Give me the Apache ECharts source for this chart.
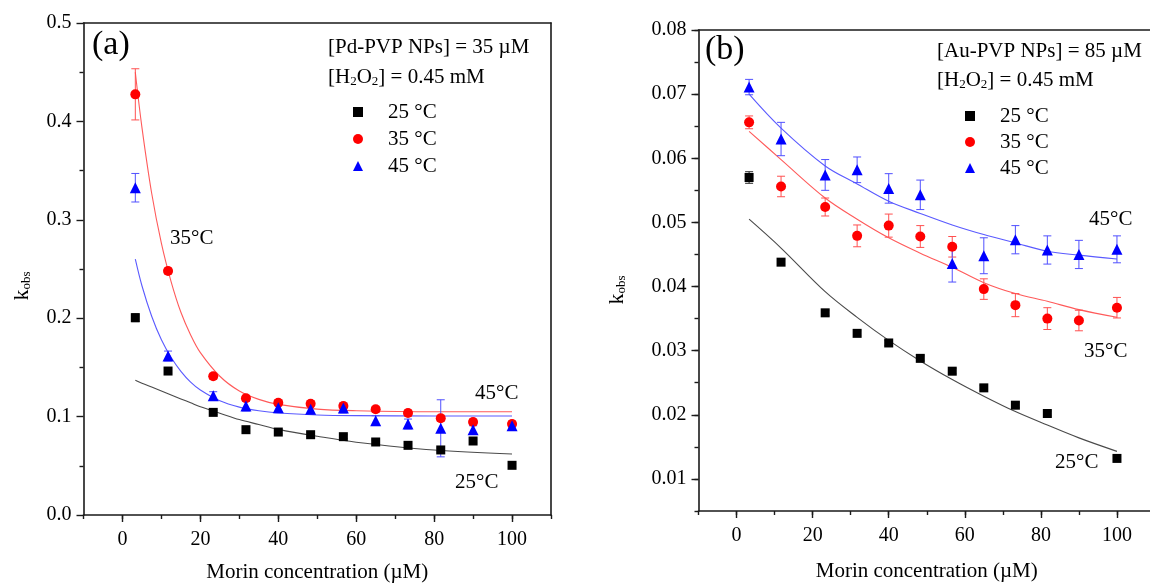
<!DOCTYPE html>
<html>
<head>
<meta charset="utf-8">
<title>Morin kinetics</title>
<script src="https://cdn.jsdelivr.net/npm/echarts@6/dist/echarts.min.js"></script>
<style>
  html, body { margin: 0; padding: 0; background: #fff; }
  #chart { width: 1150px; height: 583px; }
</style>
</head>
<body>
<div id="chart"></div>
<script>
// Morin concentrations (µM) used in both experiments
const morin = [3.3, 11.7, 23.3, 31.7, 40, 48.3, 56.7, 65, 73.3, 81.7, 90, 100];
const seriesNames = ['25 °C', '35 °C', '45 °C'];

// (a) Pd-PVP NPs: observed rate constants and error bars
const pdK25 = [0.2005, 0.1463, 0.1043, 0.0867, 0.0843, 0.0816, 0.0796, 0.0742, 0.0708, 0.0661, 0.0752, 0.0505];
const pdErr25 = [0.004, 0.002, 0.002, 0.002, 0.002, 0.002, 0.002, 0.002, 0.002, 0.002, 0.002, 0.002];
const pdK35 = [0.4275, 0.248, 0.141, 0.1186, 0.1141, 0.1131, 0.1108, 0.1074, 0.1037, 0.0983, 0.0945, 0.0925];
const pdErr35 = [0.026, 0.003, 0.003, 0.003, 0.003, 0.003, 0.003, 0.003, 0.003, 0.003, 0.003, 0.003];
const pdK45 = [0.3326, 0.1616, 0.1213, 0.1108, 0.109, 0.1074, 0.1087, 0.0959, 0.0925, 0.0881, 0.0867, 0.0908];
const pdErr45 = [0.0145, 0.005, 0.004, 0.005, 0.005, 0.005, 0.005, 0.005, 0.005, 0.029, 0.004, 0.004];

// (a) fitted curves
const pdFitX = [3.3, 5, 7.5, 10, 12.5, 15, 17.5, 20, 25, 30, 35, 40, 50, 60, 80, 100];
const pdFit25 = [0.137, 0.134, 0.130, 0.126, 0.122, 0.118, 0.114, 0.110, 0.1035, 0.097, 0.092, 0.087, 0.080, 0.074, 0.066, 0.062];
const pdFit35 = [0.450, 0.394, 0.327, 0.276, 0.237, 0.206, 0.183, 0.165, 0.141, 0.126, 0.1175, 0.1124, 0.1076, 0.106, 0.105, 0.105];
const pdFit45 = [0.260, 0.233, 0.202, 0.178, 0.160, 0.146, 0.135, 0.127, 0.116, 0.1096, 0.1059, 0.1037, 0.1017, 0.1010, 0.1006, 0.1006];

// (b) Au-PVP NPs: observed rate constants and error bars (no 25 °C point at 90 µM)
const auK25 = [0.0570, 0.0438, 0.0359, 0.0327, 0.0312, 0.0288, 0.0268, 0.0242, 0.0215, 0.0202, null, 0.0132];
const auErr25 = [0.0009, 0.0004, 0.0004, 0.0004, 0.0004, 0.0004, 0.0004, 0.0004, 0.0004, 0.0004, null, 0.0004];
const auK35 = [0.0656, 0.0556, 0.0524, 0.0479, 0.0495, 0.0478, 0.0462, 0.0396, 0.0371, 0.0350, 0.0347, 0.0367];
const auErr35 = [0.0010, 0.0016, 0.0014, 0.0017, 0.0018, 0.0017, 0.0016, 0.0016, 0.0018, 0.0017, 0.0016, 0.0016];
const auK45 = [0.0711, 0.0630, 0.0574, 0.0582, 0.0553, 0.0543, 0.0436, 0.0448, 0.0473, 0.0457, 0.0450, 0.0458];
const auErr45 = [0.0012, 0.0026, 0.0024, 0.0020, 0.0023, 0.0023, 0.0029, 0.0028, 0.0022, 0.0022, 0.0022, 0.0021];

// (b) fitted curves
const auFit25 = [0.0505, 0.0460, 0.0392, 0.0352, 0.0316, 0.0284, 0.0255, 0.0229, 0.0205, 0.0184, 0.0164, 0.0143];
const auFit35 = [0.0642, 0.0598, 0.0538, 0.0505, 0.0476, 0.0452, 0.0430, 0.0406, 0.0389, 0.0377, 0.0364, 0.0352];
const auFit45 = [0.0700, 0.0647, 0.0588, 0.0560, 0.0533, 0.0514, 0.0496, 0.0481, 0.0468, 0.0455, 0.0449, 0.0443];

// axis ticks
const xMajorTicks = [0, 20, 40, 60, 80, 100];
const auYMajorTicks = [0.01, 0.02, 0.03, 0.04, 0.05, 0.06, 0.07, 0.08];

const FONT = 'Liberation Serif';
const AXIS_COLOR = '#1a1a1a';
const colors = ['#000000', '#ff0000', '#0000ff'];
const errColors = ['#222222', '#ff5050', '#5050ff'];
const fitColors = ['#4a4a4a', '#ff5a5a', '#5a5aff'];
const symbols = ['rect', 'circle', 'triangle'];
const symbolSizes = [9, 10, 11];

function pairs(xs, ys) {
  const out = [];
  xs.forEach((x, i) => { if (ys[i] != null) out.push([x, ys[i]]); });
  return out;
}
function triples(xs, ys, es) {
  const out = [];
  xs.forEach((x, i) => { if (ys[i] != null) out.push([x, ys[i], es[i]]); });
  return out;
}

function scatter(k, xi, yi, data) {
  return {
    name: seriesNames[k], type: 'scatter', xAxisIndex: xi, yAxisIndex: yi,
    data, symbol: symbols[k], symbolSize: symbolSizes[k],
    itemStyle: { color: colors[k], opacity: 1 }, z: 5, silent: true
  };
}
function fit(k, xi, yi, data) {
  return {
    name: 'fit ' + seriesNames[k], type: 'line', xAxisIndex: xi, yAxisIndex: yi,
    data, smooth: 0.35, showSymbol: false, symbol: 'none',
    lineStyle: { color: fitColors[k], width: 1.1 }, z: 3, silent: true
  };
}
function errorBars(k, xi, yi, data) {
  return {
    name: 'err ' + seriesNames[k], type: 'custom', xAxisIndex: xi, yAxisIndex: yi,
    data, z: 4, silent: true, encode: { x: 0, y: 1 },
    renderItem: function (params, api) {
      const x = api.value(0), y = api.value(1), e = api.value(2);
      const hi = api.coord([x, y + e]);
      const lo = api.coord([x, y - e]);
      const cap = 4;
      const style = { stroke: errColors[k], lineWidth: 1 };
      return {
        type: 'group',
        children: [
          { type: 'line', shape: { x1: hi[0], y1: hi[1], x2: lo[0], y2: lo[1] }, style },
          { type: 'line', shape: { x1: hi[0] - cap, y1: hi[1], x2: hi[0] + cap, y2: hi[1] }, style },
          { type: 'line', shape: { x1: lo[0] - cap, y1: lo[1], x2: lo[0] + cap, y2: lo[1] }, style }
        ]
      };
    }
  };
}

const axisLine = { show: true, onZero: false, lineStyle: { color: AXIS_COLOR, width: 1.6 } };
const labelStyle = { fontFamily: FONT, fontSize: 20, color: '#000' };

function xAxes(gridIndex, titleGap) {
  return [
    { // bottom axis with minor ticks every 10
      type: 'value', gridIndex, position: 'bottom', min: -10, max: 110, interval: 10,
      axisLine, splitLine: { show: false },
      axisTick: { show: true, length: 4, inside: false, lineStyle: { color: AXIS_COLOR, width: 1.4 } },
      axisLabel: {
        ...labelStyle, margin: 15,
        formatter: v => (v >= 0 && v <= 100 && v % 20 === 0) ? String(v) : ''
      },
      name: 'Morin concentration (µM)', nameLocation: 'middle', nameGap: titleGap,
      nameTextStyle: { fontFamily: FONT, fontSize: 21, color: '#000' }
    },
    { // longer major ticks
      type: 'value', gridIndex, position: 'bottom', min: -10, max: 110,
      axisLine: { show: false, onZero: false }, splitLine: { show: false },
      axisTick: { show: true, length: 7, customValues: xMajorTicks, lineStyle: { color: AXIS_COLOR, width: 1.4 } },
      axisLabel: { show: false }
    },
    { // top frame line
      type: 'value', gridIndex, position: 'top', min: -10, max: 110,
      axisLine, axisTick: { show: false }, axisLabel: { show: false }, splitLine: { show: false }
    }
  ];
}

const option = {
  animation: false,
  backgroundColor: '#ffffff',
  grid: [
    { left: 83.5, top: 23, width: 467.5, height: 492, outerBoundsMode: 'none', containLabel: false },
    { left: 698.5, top: 30, width: 456.5, height: 481, outerBoundsMode: 'none', containLabel: false }
  ],
  xAxis: [...xAxes(0, 47), ...xAxes(1, 50)],
  yAxis: [
    { // (a) left axis
      type: 'value', gridIndex: 0, position: 'left', min: 0, max: 0.5, interval: 0.1,
      axisLine, splitLine: { show: false },
      axisTick: { show: true, length: 7, lineStyle: { color: AXIS_COLOR, width: 1.4 } },
      minorTick: { show: true, splitNumber: 2, length: 4, lineStyle: { color: AXIS_COLOR, width: 1.4 } },
      axisLabel: { ...labelStyle, margin: 12, formatter: v => v.toFixed(1) }
    },
    { // (a) right frame line
      type: 'value', gridIndex: 0, position: 'right', min: 0, max: 0.5,
      axisLine, axisTick: { show: false }, axisLabel: { show: false }, splitLine: { show: false }
    },
    { // (b) left axis with minor ticks every 0.005
      type: 'value', gridIndex: 1, position: 'left', min: 0.005, max: 0.08, interval: 0.005,
      axisLine, splitLine: { show: false },
      axisTick: { show: true, length: 4, lineStyle: { color: AXIS_COLOR, width: 1.4 } },
      axisLabel: {
        ...labelStyle, margin: 12,
        formatter: v => {
          const c = Math.round(v * 1000);
          return c % 10 === 0 ? (c / 1000).toFixed(2) : '';
        }
      }
    },
    { // (b) longer major ticks
      type: 'value', gridIndex: 1, position: 'left', min: 0.005, max: 0.08,
      axisLine: { show: false, onZero: false }, splitLine: { show: false },
      axisTick: { show: true, length: 7, customValues: auYMajorTicks, lineStyle: { color: AXIS_COLOR, width: 1.4 } },
      axisLabel: { show: false }
    },
    { // (b) right frame line
      type: 'value', gridIndex: 1, position: 'right', min: 0.005, max: 0.08,
      axisLine, axisTick: { show: false }, axisLabel: { show: false }, splitLine: { show: false }
    }
  ],
  legend: [
    {
      orient: 'vertical', left: 348, top: 96, itemWidth: 10, itemHeight: 10, itemGap: 5,
      selectedMode: false, data: seriesNames,
      textStyle: { fontFamily: FONT, fontSize: 21, lineHeight: 22, color: '#000', padding: [0, 0, 0, 20] }
    },
    {
      orient: 'vertical', left: 960, top: 100, itemWidth: 10, itemHeight: 10, itemGap: 4,
      selectedMode: false, data: seriesNames,
      textStyle: { fontFamily: FONT, fontSize: 21, lineHeight: 22, color: '#000', padding: [0, 0, 0, 20] }
    }
  ],
  series: [
    // (a)
    fit(0, 0, 0, pairs(pdFitX, pdFit25)),
    fit(1, 0, 0, pairs(pdFitX, pdFit35)),
    fit(2, 0, 0, pairs(pdFitX, pdFit45)),
    errorBars(0, 0, 0, triples(morin, pdK25, pdErr25)),
    errorBars(1, 0, 0, triples(morin, pdK35, pdErr35)),
    errorBars(2, 0, 0, triples(morin, pdK45, pdErr45)),
    scatter(0, 0, 0, pairs(morin, pdK25)),
    scatter(1, 0, 0, pairs(morin, pdK35)),
    scatter(2, 0, 0, pairs(morin, pdK45)),
    // (b)
    fit(0, 3, 2, pairs(morin, auFit25)),
    fit(1, 3, 2, pairs(morin, auFit35)),
    fit(2, 3, 2, pairs(morin, auFit45)),
    errorBars(0, 3, 2, triples(morin, auK25, auErr25)),
    errorBars(1, 3, 2, triples(morin, auK35, auErr35)),
    errorBars(2, 3, 2, triples(morin, auK45, auErr45)),
    scatter(0, 3, 2, pairs(morin, auK25)),
    scatter(1, 3, 2, pairs(morin, auK35)),
    scatter(2, 3, 2, pairs(morin, auK45))
  ],
  graphic: (function () {
    const rich = {
      n: { fontFamily: FONT, fontSize: 21, lineHeight: 26, verticalAlign: 'bottom', fill: '#000' },
      s: { fontFamily: FONT, fontSize: 13, lineHeight: 13, verticalAlign: 'bottom', fill: '#000' }
    };
    const kRich = {
      n: { fontFamily: FONT, fontSize: 22, lineHeight: 26, verticalAlign: 'bottom', fill: '#000' },
      s: { fontFamily: FONT, fontSize: 13, lineHeight: 13, verticalAlign: 'bottom', fill: '#000' }
    };
    function text(x, y, t, size, align) {
      return {
        type: 'text', x, y, silent: true,
        style: { text: t, fontFamily: FONT, fontSize: size, fill: '#000',
          align: align || 'left', verticalAlign: 'middle' }
      };
    }
    function richText(x, y, t, r, rotation, align) {
      return {
        type: 'text', x, y, rotation: rotation || 0, silent: true,
        style: { text: t, rich: r, align: align || 'left', verticalAlign: 'middle' }
      };
    }
    return [
      // (a)
      text(92, 45, '(a)', 34),
      text(328, 47, '[Pd-PVP NPs] = 35 µM', 21),
      richText(328, 75, '{n|[H}{s|2}{n|O}{s|2}{n|] = 0.45 mM}', rich),
      text(170, 238, '35°C', 21),
      text(475, 393, '45°C', 21),
      text(455, 482, '25°C', 21),
      richText(20, 286, '{n|k}{s|obs}', kRich, Math.PI / 2, 'center'),
      // (b)
      text(705, 50, '(b)', 34),
      text(937, 51, '[Au-PVP NPs] = 85 µM', 21),
      richText(937, 78, '{n|[H}{s|2}{n|O}{s|2}{n|] = 0.45 mM}', rich),
      text(1089, 219, '45°C', 21),
      text(1084, 351, '35°C', 21),
      text(1055, 462, '25°C', 21),
      richText(615, 290, '{n|k}{s|obs}', kRich, Math.PI / 2, 'center')
    ];
  })()
};

const chart = echarts.init(document.getElementById('chart'), null, { renderer: 'canvas' });
chart.setOption(option);
</script>
</body>
</html>
